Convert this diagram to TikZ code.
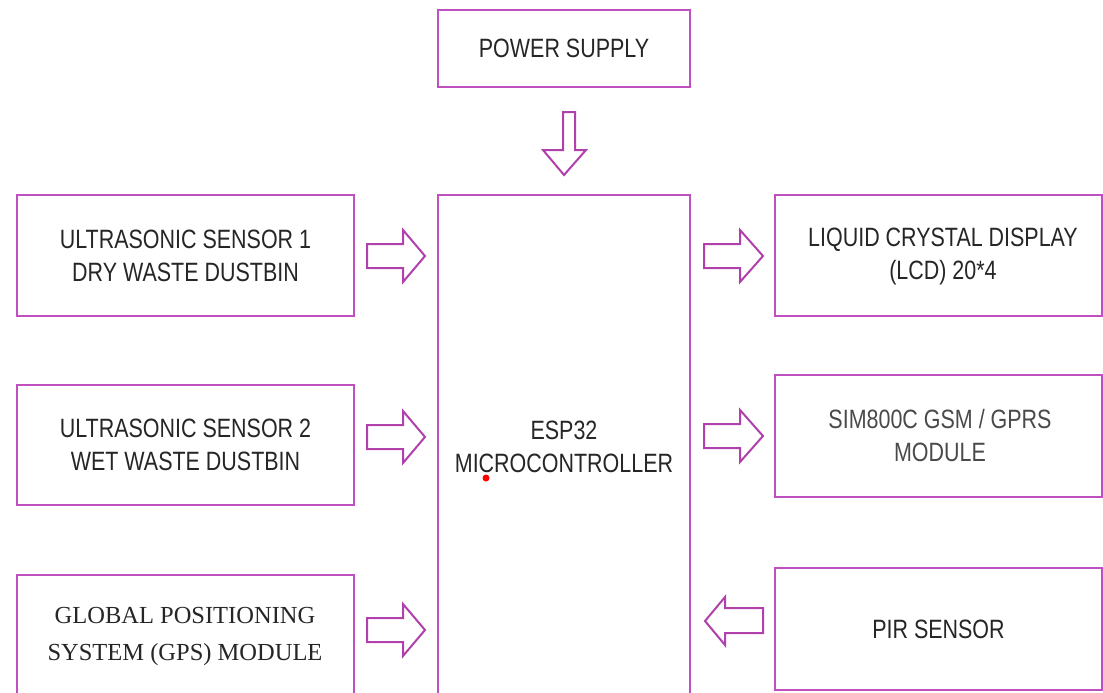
\documentclass[tikz,border=0pt]{standalone}
\usepackage{fontspec}
\setmainfont{Liberation Sans}[FakeStretch=0.81]
\newfontfamily\gpsfont{Liberation Serif}
\begin{document}
\begin{tikzpicture}[x=1pt,y=-1pt,
  box/.style={draw=boxc, line width=2.6pt, rectangle, inner sep=0pt, fill=white},
  txt/.style={text=txtc, align=center, font=\fontsize{26.5}{33}\selectfont},
  blk/.style={draw=arrc, line width=2pt, line join=miter, fill=white}]
\definecolor{boxc}{HTML}{C050C0}
\definecolor{arrc}{HTML}{B040AC}
\definecolor{txtc}{HTML}{262626}
\definecolor{txtl}{HTML}{4A4A4A}
\useasboundingbox (0,0) rectangle (1103,693);
\clip (0,0) rectangle (1103,693);
% boxes
\node[box, minimum width=252pt, minimum height=77pt] (pow) at (564,48.5) {};
\node[box, minimum width=252pt, minimum height=534pt] (esp) at (564,462) {};
\node[box, minimum width=337pt, minimum height=121pt] (us1) at (185.5,255.5) {};
\node[box, minimum width=337pt, minimum height=120pt] (us2) at (185.5,445) {};
\node[box, minimum width=337pt, minimum height=150pt] (gps) at (185.5,650) {};
\node[box, minimum width=327pt, minimum height=121pt] (lcd) at (938.5,255.5) {};
\node[box, minimum width=327pt, minimum height=122pt] (sim) at (938.5,436) {};
\node[box, minimum width=327pt, minimum height=122pt] (pir) at (938.5,629) {};
% texts
\node[txt] (powt) at (pow.center) {POWER SUPPLY};
\node[txt] (espt) at (564,447) {ESP32\\MICROCONTROLLER};
\node[txt] (us1t) at (us1.center) {ULTRASONIC SENSOR 1\\DRY WASTE DUSTBIN};
\node[txt] (us2t) at (us2.center) {ULTRASONIC SENSOR 2\\WET WASTE DUSTBIN};
\node[txt, font=\gpsfont\fontsize{24.5}{37}\selectfont] (gpst) at (185,636) {GLOBAL POSITIONING\\SYSTEM (GPS) MODULE};
\node[txt] (lcdt) at (943,256) {LIQUID CRYSTAL DISPLAY\\(LCD) 20*4};
\node[txt, text=txtl] (simt) at (940,436) {SIM800C GSM / GPRS\\MODULE};
\node[txt] (pirt) at (pir.center) {PIR SENSOR};
% red dot
\fill[red] (486,478) circle (3.5pt);
% down arrow from power supply
\draw[blk] (563,112) -- (575,112) -- (575,150) -- (586,150) -- (564,175) -- (543,150) -- (563,150) -- cycle;
% right-pointing arrows (inputs)
\foreach \yc in {256,437,630}{
  \draw[blk] (367,\yc-12) -- (403,\yc-12) -- (403,\yc-26) -- (425,\yc) -- (403,\yc+26) -- (403,\yc+12) -- (367,\yc+12) -- cycle;
}
% right-pointing arrows (outputs)
\foreach \yc in {256,436}{
  \draw[blk] (704,\yc-12) -- (740,\yc-12) -- (740,\yc-26) -- (763,\yc) -- (740,\yc+26) -- (740,\yc+12) -- (704,\yc+12) -- cycle;
}
% left-pointing arrow from PIR
\draw[blk] (763,608) -- (725,608) -- (725,597) -- (705,621) -- (725,645) -- (725,633) -- (763,633) -- cycle;
\end{tikzpicture}
\end{document}
